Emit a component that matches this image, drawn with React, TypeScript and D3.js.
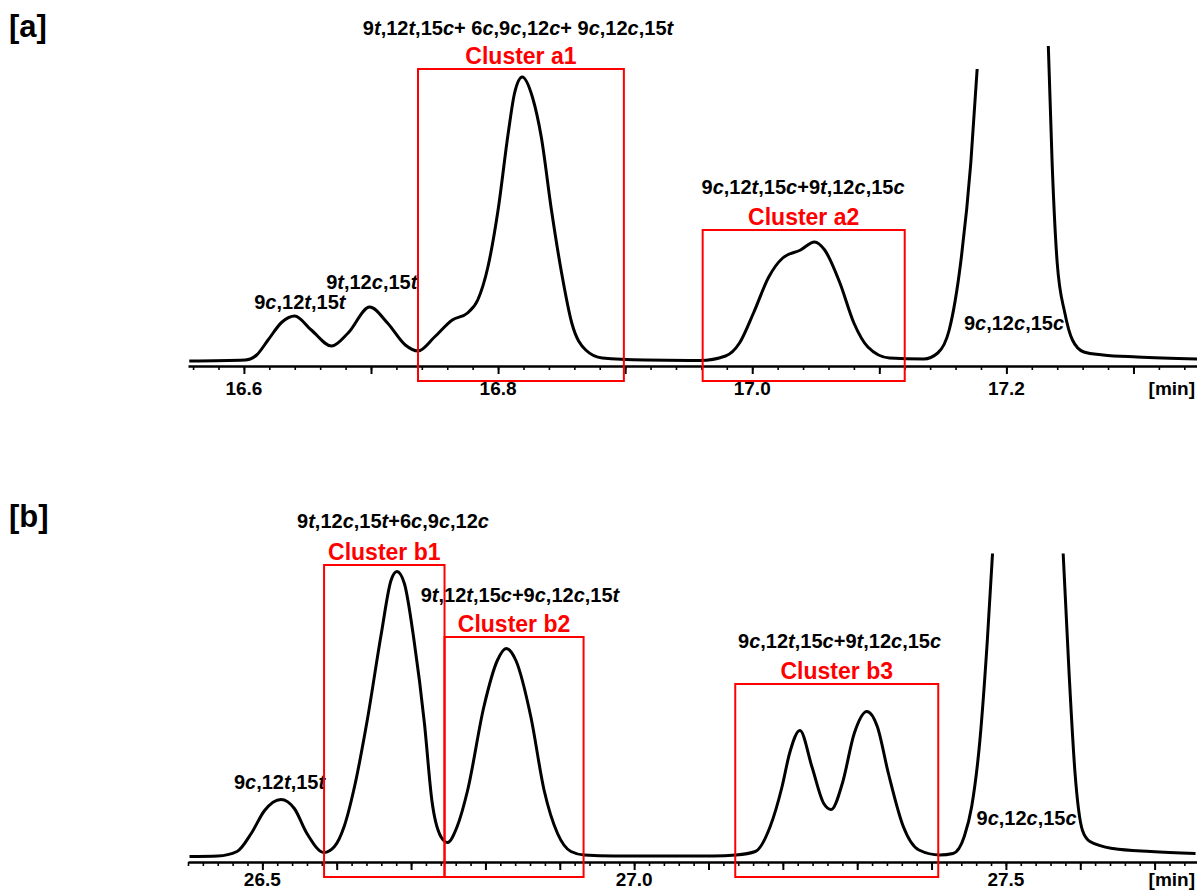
import React, { useEffect, useRef } from "react";
import * as d3 from "d3";

// [a] trace: retention time (min) / detector signal, null = off scale
const timeA = [16.557, 16.601, 16.61, 16.619, 16.63, 16.64, 16.653, 16.669, 16.682, 16.699, 16.713, 16.727, 16.737, 16.75, 16.764, 16.776, 16.784, 16.792, 16.8, 16.808, 16.813, 16.819, 16.827, 16.834, 16.842, 16.85, 16.858, 16.869, 16.882, 16.916, 16.959, 16.979, 16.99, 17.001, 17.013, 17.024, 17.038, 17.049, 17.057, 17.069, 17.08, 17.091, 17.108, 17.135, 17.146, 17.155, 17.164, 17.172, 17.177, 17.205, 17.233, 17.236, 17.24, 17.246, 17.252, 17.261, 17.276, 17.303, 17.35];
const signalA = [0, 1, 6, 21, 39, 45, 31, 15, 28, 54, 38, 16, 10, 24, 41, 48, 61, 94, 151, 228, 268, 284, 264, 224, 151, 88, 38, 11, 3, 1, 0.5, 5, 18, 48, 84, 103, 111, 119, 111, 78, 38, 14, 3, 2, 8, 31, 98, 198, 292, null, 315, 198, 98, 48, 21, 9, 6, 4, 2];

// [b] trace
const timeB = [26.402, 26.44, 26.466, 26.485, 26.503, 26.525, 26.543, 26.56, 26.583, 26.597, 26.61, 26.624, 26.641, 26.66, 26.673, 26.681, 26.691, 26.704, 26.718, 26.728, 26.74, 26.749, 26.762, 26.776, 26.798, 26.816, 26.828, 26.841, 26.861, 26.879, 26.897, 26.915, 26.933, 26.973, 27.106, 27.137, 27.163, 27.183, 27.199, 27.209, 27.223, 27.239, 27.255, 27.265, 27.28, 27.296, 27.313, 27.327, 27.342, 27.362, 27.383, 27.411, 27.429, 27.444, 27.454, 27.465, 27.475, 27.482, 27.53, 27.577, 27.585, 27.593, 27.603, 27.613, 27.644, 27.695, 27.755];
const signalB = [0, 0.5, 5, 23, 46, 57, 48, 23, 4, 10, 30, 70, 136, 223, 276, 285, 273, 216, 133, 56, 20, 14, 30, 66, 150, 196, 208, 196, 140, 66, 23, 5, 1.5, 0.5, 0.5, 1.5, 5, 30, 70, 103, 126, 90, 53, 47, 73, 123, 145, 130, 83, 30, 6.5, 1.5, 3, 20, 50, 116, 216, 303, null, 303, 183, 83, 26, 15, 8, 5, 3];

// clusters (time window + box top in signal units)
const clusterNamesA = ["Cluster a1", "Cluster a2"];
const clusterStartA = [16.737, 16.961];
const clusterEndA = [16.899, 17.12];
const clusterTopA = [292, 131];

const clusterNamesB = ["Cluster b1", "Cluster b2", "Cluster b3"];
const clusterStartB = [26.583, 26.745, 27.136];
const clusterEndB = [26.745, 26.932, 27.409];
const clusterTopB = [291.5, 219.5, 172.5];

// isomer labels
const labelTextA = ["9t,12t,15c+ 6c,9c,12c+ 9c,12c,15t", "9c,12t,15t", "9t,12c,15t", "9c,12t,15c+9t,12c,15c", "9c,12c,15c"];
const labelTimeA = [16.8157, 16.644, 16.7006, 17.04, 17.206];
const labelLevelA = [326, 52, 72, 167, 31];

const labelTextB = ["9t,12c,15t+6c,9c,12c", "9t,12t,15c+9c,12c,15t", "9c,12t,15c+9t,12c,15c", "9c,12t,15t", "9c,12c,15c"];
const labelTimeB = [26.6757, 26.8465, 27.2763, 26.5231, 27.5278];
const labelLevelB = [328.5, 254.5, 208.5, 67.5, 31.5];

const tickLabelsA = [16.6, 16.8, 17.0, 17.2];
const tickLabelsB = [26.5, 27.0, 27.5];

const font = "'Liberation Sans', Arial, Helvetica, sans-serif";

const stepTicks = (lo: number, hi: number, step: number) => {
    const out: number[] = [];
    const n = Math.floor((hi - lo) / step + 1e-6);
    for (let i = 0; i <= n; i++) out.push(+(lo + i * step).toFixed(3));
    return out;
};

// c / t in italics
const addRichText = (sel: any, txt: string) => {
    txt.split(/([ct])/).filter((s) => s.length).forEach((part) => {
        sel.append("tspan")
            .attr("font-style", part === "c" || part === "t" ? "italic" : "normal")
            .text(part);
    });
};

const drawPanel = (svg: any, p: any) => {
    const x = d3.scaleLinear().domain(p.xDomain).range([188, 1197]);
    const y = d3.scaleLinear().domain([0, 300]).range([p.base, p.base - 300]);
    const g = svg.append("g");

    // trace
    const pts = p.time.map((t: number, i: number) => [t, p.signal[i]]);
    const line = d3.line()
        .defined((d: any) => d[1] !== null)
        .x((d: any) => x(d[0]))
        .y((d: any) => y(d[1]))
        .curve(d3.curveMonotoneX);
    g.append("path")
        .attr("d", line(pts))
        .attr("fill", "none")
        .attr("stroke", "#000")
        .attr("stroke-width", 3)
        .attr("stroke-linejoin", "round");

    // axis
    const minor = stepTicks(p.minorFrom, p.minorTo, 0.02);
    const major = stepTicks(p.majorFrom, p.majorTo, 0.1);
    const ax1 = g.append("g").attr("transform", `translate(0,${p.axisY})`)
        .call(d3.axisBottom(x).tickValues(minor).tickSize(4).tickSizeOuter(0).tickFormat(() => ""));
    ax1.select(".domain").attr("stroke-width", 2.5);
    ax1.selectAll(".tick line").attr("stroke-width", 1.6);
    const ax2 = g.append("g").attr("transform", `translate(0,${p.axisY})`)
        .call(d3.axisBottom(x).tickValues(major).tickSize(8).tickSizeOuter(0).tickFormat(() => ""));
    ax2.select(".domain").remove();
    ax2.selectAll(".tick line").attr("stroke-width", 2);

    g.selectAll(null).data(p.tickLabels).enter().append("text")
        .attr("x", (d: number) => x(d))
        .attr("y", p.axisY + p.labelGap)
        .attr("text-anchor", "middle")
        .attr("font-family", font)
        .attr("font-weight", "bold")
        .attr("font-size", 19)
        .text((d: number) => d3.format(".1f")(d));
    g.append("text")
        .attr("x", 1195)
        .attr("y", p.axisY + p.labelGap)
        .attr("text-anchor", "end")
        .attr("font-family", font)
        .attr("font-weight", "bold")
        .attr("font-size", 19)
        .text("[min]");

    // isomer labels
    p.labelText.forEach((txt: string, i: number) => {
        const t = g.append("text")
            .attr("x", x(p.labelTime[i]))
            .attr("y", y(p.labelLevel[i]))
            .attr("text-anchor", "middle")
            .attr("font-family", font)
            .attr("font-weight", "bold")
            .attr("font-size", 20)
            .attr("fill", "#000");
        addRichText(t, txt);
    });

    // cluster boxes
    p.clusterNames.forEach((name: string, i: number) => {
        const x0 = x(p.clusterStart[i]);
        const x1 = x(p.clusterEnd[i]);
        const top = y(p.clusterTop[i]);
        g.append("rect")
            .attr("x", x0)
            .attr("y", top)
            .attr("width", x1 - x0)
            .attr("height", p.axisY + 15 - top)
            .attr("fill", "none")
            .attr("stroke", "#ff0000")
            .attr("stroke-width", 2);
        g.append("text")
            .attr("x", (x0 + x1) / 2)
            .attr("y", top - 5)
            .attr("text-anchor", "middle")
            .attr("font-family", font)
            .attr("font-weight", "bold")
            .attr("font-size", 23)
            .attr("fill", "#ff0000")
            .text(name);
    });

    svg.append("text")
        .attr("x", 9)
        .attr("y", p.tagY)
        .attr("font-family", font)
        .attr("font-weight", "bold")
        .attr("font-size", 31)
        .text(p.tag);
};

export default function App() {
    const ref = useRef<SVGSVGElement>(null);

    useEffect(() => {
        const svg = d3.select(ref.current);
        svg.selectAll("*").remove();
        drawPanel(svg, {
            tag: "[a]", tagY: 37,
            xDomain: [16.556, 17.35], base: 361, axisY: 366, labelGap: 29,
            time: timeA, signal: signalA,
            minorFrom: 16.56, minorTo: 17.34, majorFrom: 16.6, majorTo: 17.3,
            tickLabels: tickLabelsA,
            labelText: labelTextA, labelTime: labelTimeA, labelLevel: labelLevelA,
            clusterNames: clusterNamesA, clusterStart: clusterStartA, clusterEnd: clusterEndA, clusterTop: clusterTopA,
        });
        drawPanel(svg, {
            tag: "[b]", tagY: 527,
            xDomain: [26.4, 27.757], base: 856.5, axisY: 862, labelGap: 24,
            time: timeB, signal: signalB,
            minorFrom: 26.4, minorTo: 27.74, majorFrom: 26.5, majorTo: 27.7,
            tickLabels: tickLabelsB,
            labelText: labelTextB, labelTime: labelTimeB, labelLevel: labelLevelB,
            clusterNames: clusterNamesB, clusterStart: clusterStartB, clusterEnd: clusterEndB, clusterTop: clusterTopB,
        });
    }, []);

    return (
        <svg
            ref={ref}
            width={1197}
            height={890}
            style={{ position: "absolute", left: 0, top: 0, background: "#fff" }}
        />
    );
}
